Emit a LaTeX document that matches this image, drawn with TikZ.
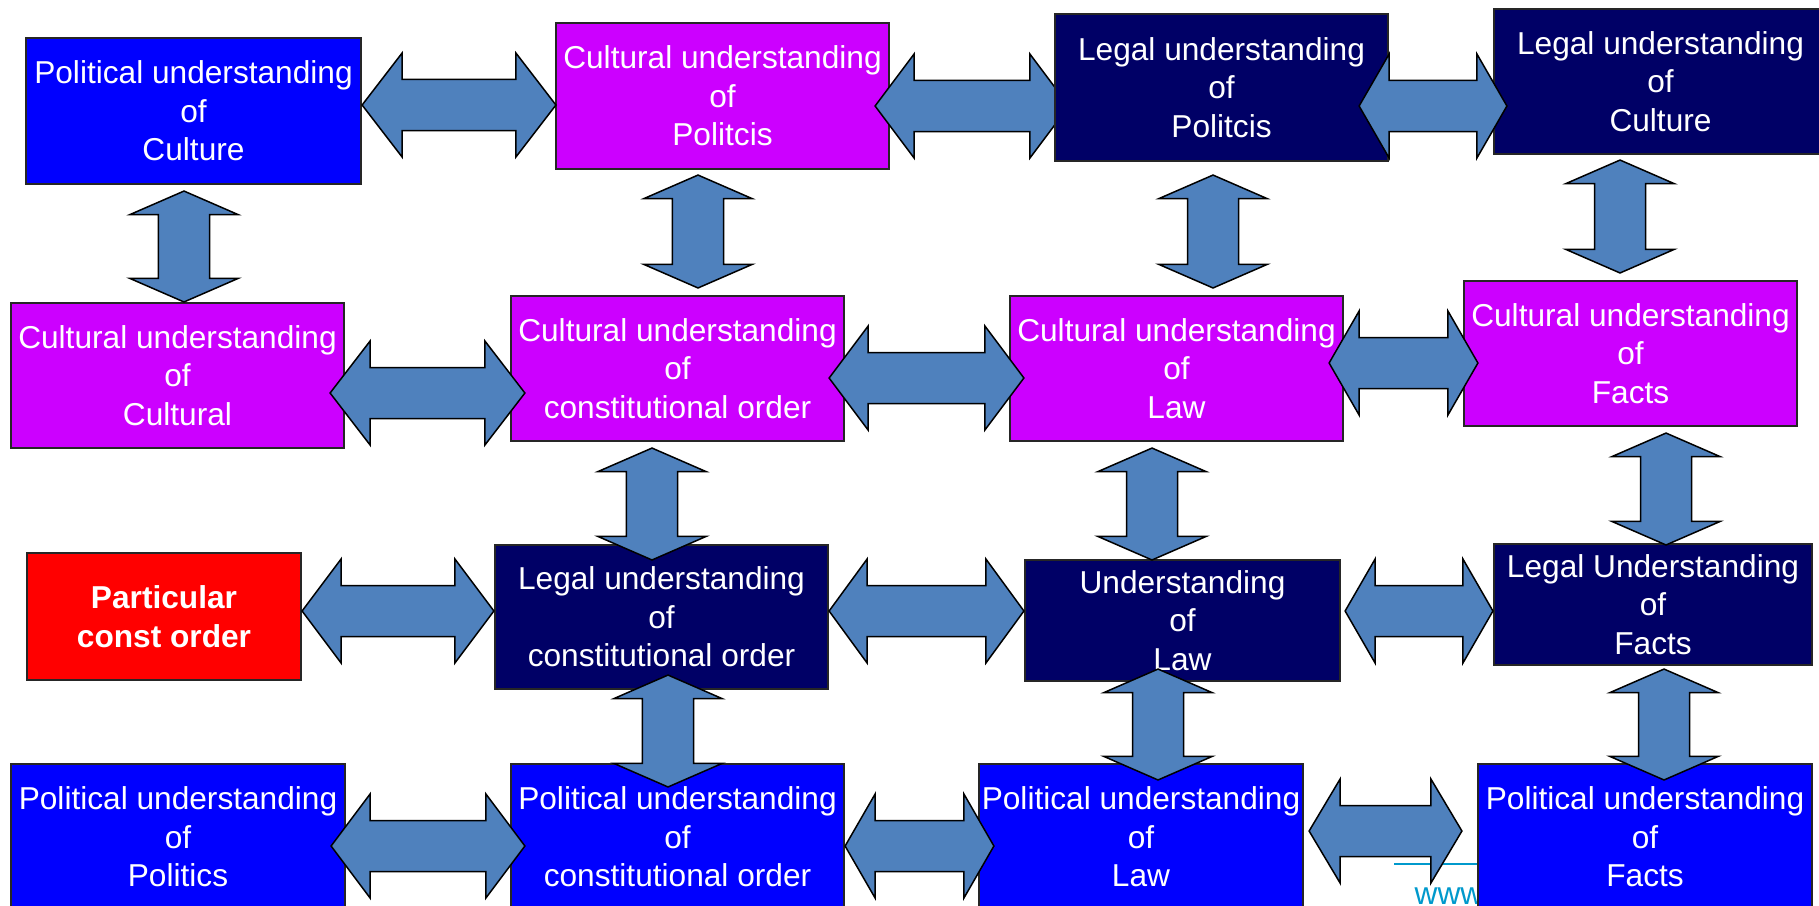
\documentclass[tikz,border=0pt]{standalone}
\usepackage{fontspec}
\setmainfont{Liberation Sans}
\usetikzlibrary{calc,backgrounds}

\definecolor{polblue}{HTML}{0000FF}
\definecolor{cultmagenta}{HTML}{CC00FF}
\definecolor{legalnavy}{HTML}{000066}
\definecolor{arrowblue}{HTML}{4F81BD}
\definecolor{wwwcyan}{HTML}{0099CC}

\tikzset{
  unit/.style={draw=black!85, line width=0.02cm, text=white, align=center, inner sep=0pt,
    minimum width=3.33cm, minimum height=1.46cm, font=\fontsize{9}{10.95}\selectfont},
  political/.style={unit, fill=polblue},
  cultural/.style={unit, fill=cultmagenta},
  legal/.style={unit, fill=legalnavy},
  fatarrow/.style={draw=black, line width=0.015cm, fill=arrowblue},
  % left-right block arrow, #1 = head length
  hfat/.style={fatarrow, to path={let \p1=(\tikztostart), \p2=(\tikztotarget) in
      -- (\x1+#1,\y1+0.52cm) -- (\x1+#1,\y1+0.255cm) -- (\x2-#1,\y1+0.255cm)
      -- (\x2-#1,\y1+0.52cm) -- (\x2,\y1) -- (\x2-#1,\y1-0.52cm) -- (\x2-#1,\y1-0.255cm)
      -- (\x1+#1,\y1-0.255cm) -- (\x1+#1,\y1-0.52cm) -- cycle}},
  hfat/.default=0.39cm,
  % up-down block arrow, drawn from the upper box to the lower one
  vfat/.style={fatarrow, to path={let \p1=(\tikztostart), \p2=(\tikztotarget) in
      -- (\x1+0.54cm,\y1-#1) -- (\x1+0.255cm,\y1-#1) -- (\x1+0.255cm,\y2+#1)
      -- (\x1+0.54cm,\y2+#1) -- (\x1,\y2) -- (\x1-0.54cm,\y2+#1) -- (\x1-0.255cm,\y2+#1)
      -- (\x1-0.255cm,\y1-#1) -- (\x1-0.54cm,\y1-#1) -- cycle}},
  vfat/.default=0.235cm
}

\begin{document}
\begin{tikzpicture}[x=0.01cm, y=-0.01cm]

  \path[use as bounding box, clip] (0,0) rectangle (1819,905);

  % first row
  \node[political, minimum width=3.35cm] (pcult) at (193.5,111) {Political understanding\\of\\Culture};
  \node[cultural] (cpol) at (722.5,96) {Cultural understanding\\of\\Politcis};
  \node[legal, minimum height=1.47cm] (lpol) at (1221.5,87.5) {Legal understanding\\of\\Politcis};
  \node[legal, minimum height=1.45cm] (lcult) at (1660.5,81.5) {Legal understanding\\of\\Culture};

  % second row
  \node[cultural, minimum height=1.45cm] (ccult) at (177.5,375.5) {Cultural understanding\\of\\Cultural};
  \node[cultural, minimum height=1.45cm] (cconst) at (677.5,368.5) {Cultural understanding\\of\\constitutional order};
  \node[cultural, minimum height=1.45cm] (claw) at (1176.5,368.5) {Cultural understanding\\of\\Law};
  \node[cultural, minimum height=1.45cm] (cfacts) at (1630.5,353.5) {Cultural understanding\\of\\Facts};

  % third row
  \node[unit, fill=red, minimum width=2.74cm, minimum height=1.27cm,
        font=\fontsize{9}{11.1}\selectfont\bfseries] (partic) at (164,616.5) {Particular\\const order};
  \node[legal, minimum height=1.44cm] (lconst) at (661.5,617) {Legal understanding\\of\\constitutional order};
  \node[legal, minimum width=3.15cm, minimum height=1.21cm] (ulaw) at (1182.5,620.5) {Understanding\\of\\Law};
  \node[legal, minimum width=3.18cm, minimum height=1.21cm] (lfacts) at (1653,604.5) {Legal Understanding\\of\\Facts};

  % fourth row
  \node[political, minimum width=3.34cm] (ppol) at (178,837) {Political understanding\\of\\Politics};
  \node[political] (pconst) at (677.5,837) {Political understanding\\of\\constitutional order};
  \node[political, minimum width=3.24cm] (plaw) at (1141,837) {Political understanding\\of\\Law};
  \node[political, minimum width=3.34cm] (pfacts) at (1645,837) {Political understanding\\of\\Facts};

  \begin{scope}[on background layer]
    \fill[white] (0,0) rectangle (1819,905);
    \coordinate (rule) at (1394,864);
    \draw[wwwcyan, line width=0.025cm] (rule) -- (pfacts.west |- rule);
    \node[anchor=base west, text=wwwcyan, inner sep=0pt, font=\fontsize{9}{11}\selectfont] (www) at (1414,904) {www};
  \end{scope}

  % this one runs under the box it points at
  \begin{scope}
    \clip (cpol.north west) rectangle (lpol.south west);
    \draw[hfat] ([shift={(-15,10)}]cpol.east) to ([xshift=0.15cm]lpol.west);
  \end{scope}

  \foreach \a/\ax/\ay/\b/\bx/\len in {pcult/0/-6/cpol/1/0.4cm, lpol/-30/18.5/lcult/14/0.3cm,
      ccult/-15/17.5/cconst/15/0.4cm, cconst/-16/9.5/claw/15/0.39cm, claw/-15/-5.5/cfacts/15/0.3cm,
      partic/0/-5.5/lconst/0/0.39cm, lconst/0/-6/ulaw/0/0.38cm, ulaw/4/-9.5/lfacts/0/0.3cm,
      ppol/-15/9/pconst/15/0.39cm, pconst/0/9/plaw/16/0.3cm, plaw/5/-6/pfacts/-15/0.31cm}{
    \draw[hfat=\len] ([shift={(\ax,\ay)}]\a.east) to ([shift={(\bx,0)}]\b.west);
  }

  \foreach \a/\ax/\ay/\b/\by in {pcult/-9.5/6/ccult/0, cpol/-24.5/5/cconst/-7, lpol/-8.5/13/claw/-7,
      lcult/-40.5/5/cfacts/-7, cconst/-25.5/6/lconst/16, claw/-24.5/6/ulaw/1, cfacts/35.5/6/lfacts/2,
      lconst/6.5/-15/pconst/24, ulaw/-24.5/-13/plaw/17, lfacts/11/3/pfacts/17}{
    \draw[vfat] ([shift={(\ax,\ay)}]\a.south) to ([shift={(0,\by)}]\b.north);
  }

\end{tikzpicture}
\end{document}
